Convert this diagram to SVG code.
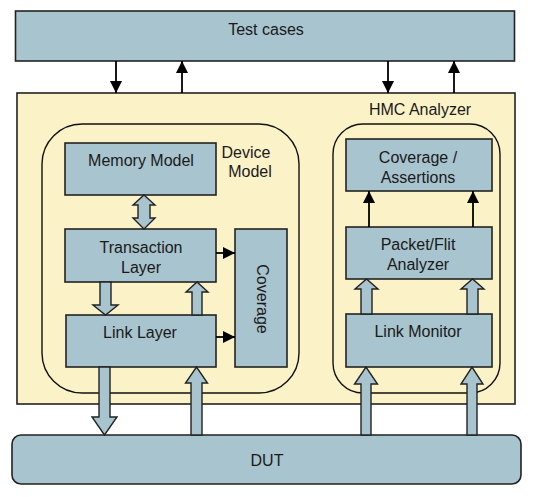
<svg xmlns="http://www.w3.org/2000/svg" width="537" height="497" viewBox="0 0 537 497">
<defs>
<style>
.box{fill:#a8c4ce;stroke:#222;stroke-width:1.6}
.cont{fill:none;stroke:#111;stroke-width:1.4}
.bg{fill:#fcf2c8;stroke:#222;stroke-width:1.6}
.blk{fill:#a8c4ce;stroke:#222;stroke-width:1.4;stroke-linejoin:miter}
.ln{fill:none;stroke:#000;stroke-width:1.8}
text{font-family:"Liberation Sans",Arial,sans-serif;font-size:16px;fill:#1a1a1a;text-anchor:middle}
</style>
<marker id="ah" markerUnits="userSpaceOnUse" markerWidth="12" markerHeight="12" viewBox="0 0 12 12" refX="12" refY="6" orient="auto">
<path d="M0,0 L12,6 L0,12 Z" fill="#000"/>
</marker>
</defs>
<rect width="537" height="497" fill="#fff"/>
<g id="test-cases">
<rect class="box" x="15.5" y="11" width="499" height="50"/>
<text x="266" y="35">Test cases</text>
</g>
<g id="hmc-analyzer">
<rect class="bg" x="17" y="93" width="498" height="311"/>
<text x="420" y="115">HMC Analyzer</text>
</g>
<g id="device-model">
<rect class="cont" x="42" y="124" width="257" height="269" rx="40" ry="40"/>
<text x="246" y="158">Device</text>
<text x="250" y="177">Model</text>
</g>
<g id="monitor-group">
<rect class="cont" x="333" y="124" width="167" height="269" rx="30" ry="30"/>
</g>
<g id="memory-model">
<rect class="box" x="65" y="143" width="151" height="52"/>
<text x="141" y="166">Memory Model</text>
</g>
<g id="transaction-layer">
<rect class="box" x="65" y="229" width="151" height="53"/>
<text x="141" y="253">Transaction</text>
<text x="141" y="273">Layer</text>
</g>
<g id="link-layer">
<rect class="box" x="66" y="315" width="150" height="52"/>
<text x="140" y="338">Link Layer</text>
</g>
<g id="coverage">
<rect class="box" x="235" y="229" width="52" height="138"/>
<text x="0" y="0" transform="translate(256.5,299) rotate(90)">Coverage</text>
</g>
<g id="coverage-assertions">
<rect class="box" x="346" y="139" width="146" height="52"/>
<text x="418" y="163">Coverage /</text>
<text x="418" y="183">Assertions</text>
</g>
<g id="packet-flit-analyzer">
<rect class="box" x="346" y="227" width="146" height="52"/>
<text x="418" y="250">Packet/Flit</text>
<text x="418" y="270">Analyzer</text>
</g>
<g id="link-monitor">
<rect class="box" x="346" y="314" width="146" height="53"/>
<text x="418" y="337">Link Monitor</text>
</g>
<g id="dut">
<rect class="box" x="12" y="435" width="509" height="49" rx="9" ry="9"/>
<text x="267" y="466">DUT</text>
</g>
<g id="connectors">
<path class="ln" d="M116,61 L116,93" marker-end="url(#ah)"/>
<path class="ln" d="M182,93 L182,61" marker-end="url(#ah)"/>
<path class="ln" d="M388,61 L388,93" marker-end="url(#ah)"/>
<path class="ln" d="M454,93 L454,61" marker-end="url(#ah)"/>
<path class="ln" d="M216,253 L235,253" marker-end="url(#ah)"/>
<path class="ln" d="M216,337 L235,337" marker-end="url(#ah)"/>
<path class="ln" d="M369,227 L369,191" marker-end="url(#ah)"/>
<path class="ln" d="M473,227 L473,191" marker-end="url(#ah)"/>
<path class="blk" d="M144,195 L155,205 L150,205 L150,218 L155,218 L144,229 L133,218 L138,218 L138,205 L133,205 Z"/>
<path class="blk" d="M100,282 L100,305 L93,305 L105.5,315 L118,305 L111,305 L111,282 Z"/>
<path class="blk" d="M192,315 L192,292 L186,292 L197,282 L208,292 L202,292 L202,315 Z"/>
<path class="blk" d="M99,367 L99,417 L92,417 L104.5,435 L117,417 L110,417 L110,367 Z"/>
<path class="blk" d="M191,435 L191,383 L185.5,383 L196.5,367 L207.5,383 L202,383 L202,435 Z"/>
<path class="blk" d="M361,314 L361,289 L355,289 L366.5,279 L378,289 L372,289 L372,314 Z"/>
<path class="blk" d="M467,314 L467,289 L461,289 L472.5,279 L484,289 L478,289 L478,314 Z"/>
<path class="blk" d="M361,435 L361,384 L354.5,384 L366,367 L377.5,384 L371,384 L371,435 Z"/>
<path class="blk" d="M467,435 L467,384 L461,384 L472,367 L483,384 L477,384 L477,435 Z"/>
</g>
</svg>
